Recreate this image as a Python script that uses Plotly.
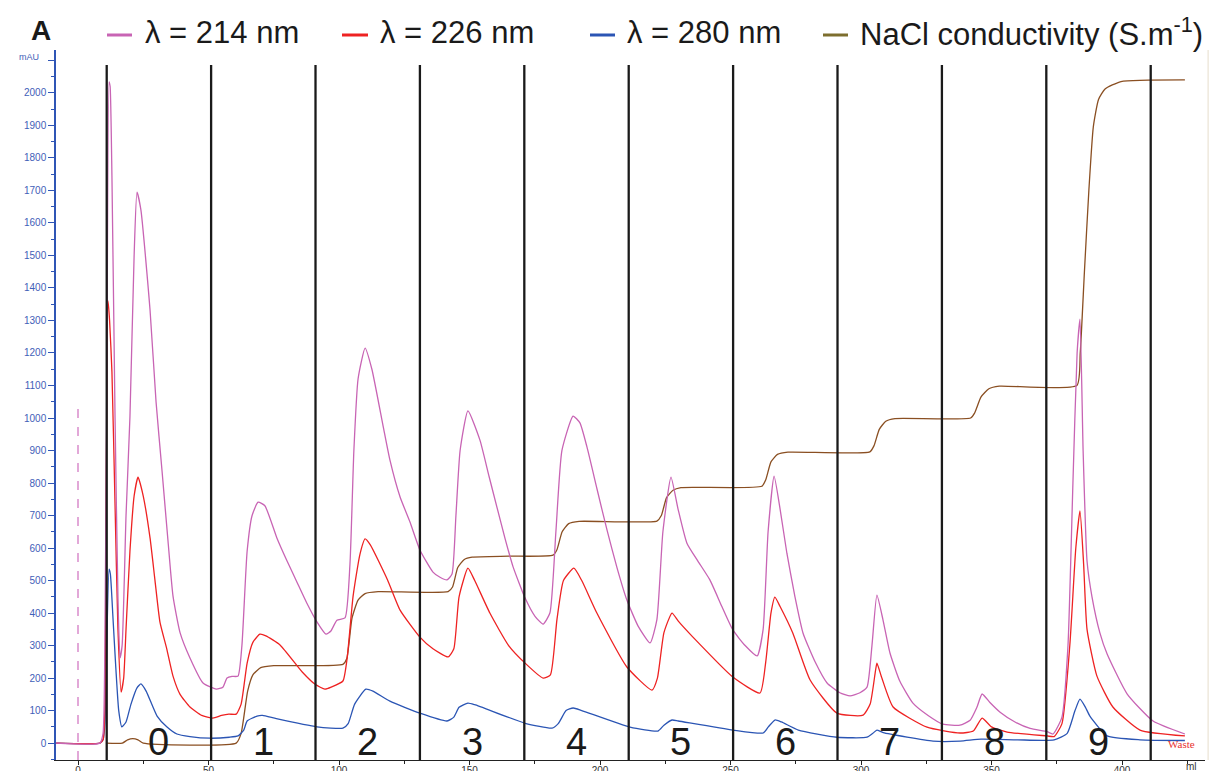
import plotly.graph_objects as go

# ---------------- data (ml, mAU) ----------------
x214 = [-8.4, 8.4, 9.6, 10.3, 11.1, 11.9, 12.3, 13.0, 14.2, 15.3, 16.1, 16.9, 18.4, 19.9, 21.5, 22.6, 24.1,
        27.6, 29.9, 32.2, 34.5, 36.4, 39.1, 42.9, 47.9, 53.0, 55.5, 57.1, 59.0, 61.3, 62.8, 64.8, 66.7, 69.0,
        71.6, 76.2, 80.1, 83.9, 87.7, 91.6, 95.0, 96.9, 99.2, 102.3, 104.2, 105.7, 107.3, 110.0, 112.6, 116.9,
        119.5, 123.4, 127.2, 131.0, 136.0, 138.7, 141.4, 143.3, 144.8, 146.4, 149.4, 154.0, 157.5, 160.5,
        163.6, 166.7, 171.3, 175.1, 178.2, 180.8, 183.1, 185.4, 189.7, 192.3, 195.0, 198.9, 202.7, 206.5,
        210.3, 214.6, 219.2, 221.8, 224.1, 227.2, 229.9, 233.3, 237.5, 242.1, 246.7, 250.9, 255.6, 260.2,
        262.5, 264.4, 266.7, 269.0, 271.6, 274.7, 277.8, 282.4, 287.0, 291.9, 295.8, 299.6, 302.3, 304.2,
        306.1, 308.4, 311.1, 314.9, 319.9, 325.7, 331.4, 337.9, 341.8, 344.4, 346.4, 349.4, 353.3, 359.0,
        364.8, 371.3, 373.6, 377.0, 379.3, 381.2, 382.8, 383.9, 385.1, 386.6, 388.5, 391.5, 394.3, 402.0,
        411.9, 424.1]
y214 = [0, 0, 30, 300, 1200, 2034, 2020, 1745, 1000, 450, 262, 300, 700, 1003, 1500, 1695, 1640,
        1332, 1050, 837, 620, 452, 340, 262, 185, 166, 172, 200, 205, 206, 300, 590, 700, 741,
        730, 631, 560, 495, 430, 372, 335, 345, 378, 385, 550, 900, 1120, 1215, 1150, 975,
        871, 757, 680, 594, 526, 510, 502, 520, 700, 900, 1022, 932, 820, 726,
        630, 542, 446, 390, 366, 400, 650, 900, 1006, 985, 911, 780, 655, 540,
        440, 360, 308, 380, 650, 818, 720, 615, 560, 502, 420, 348, 300, 268,
        350, 650, 821, 720, 584, 450, 338, 250, 185, 155, 145, 155, 172, 300,
        455, 380, 277, 190, 123, 85, 58, 55, 70, 110, 151, 125, 95, 65,
        45, 35, 28, 80, 300, 800, 1200, 1304, 900, 560, 450, 340, 274, 151,
        68, 28]

x226 = [-8.4, 8.4, 9.6, 10.3, 10.7, 11.5, 12.1, 13.0, 14.2, 15.3, 16.5, 17.5, 18.4, 19.9, 21.5, 23.0, 25.0,
        27.6, 29.5, 31.4, 34.0, 36.4, 39.1, 42.9, 47.4, 51.7, 55.0, 57.8, 60.6, 62.5, 64.8, 67.0, 69.7,
        72.0, 77.4, 86.0, 91.0, 94.6, 97.0, 101.5, 103.1, 105.4, 108.0, 110.0, 112.0, 118.6, 123.4, 131.0,
        136.0, 141.8, 144.0, 146.0, 149.4, 152.0, 157.8, 165.0, 171.3, 178.2, 181.0, 183.5, 186.0, 190.0,
        193.0, 198.8, 210.3, 219.9, 222.0, 224.5, 227.6, 230.0, 235.6, 250.9, 261.3, 263.5, 265.5, 267.0,
        269.0, 273.9, 280.5, 290.8, 300.8, 303.5, 305.5, 306.1, 308.0, 312.3, 325.3, 337.9, 343.0, 346.4,
        350.0, 356.0, 371.3, 374.0, 377.0, 380.0, 382.3, 383.9, 385.3, 386.6, 390.4, 396.5, 406.9, 424.1]
y226 = [0, 0, 10, 100, 600, 1360, 1300, 1142, 730, 350, 157, 200, 350, 590, 760, 818, 760,
        631, 500, 372, 290, 206, 150, 111, 85, 77, 85, 89, 89, 120, 246, 310, 335,
        330, 302, 218, 180, 166, 172, 191, 260, 452, 580, 628, 610, 502, 409, 326,
        290, 265, 290, 450, 538, 500, 400, 300, 246, 200, 210, 380, 500, 538,
        500, 400, 234, 163, 200, 340, 400, 375, 326, 203, 154, 250, 400, 449,
        420, 338, 194, 92, 86, 120, 220, 246, 200, 111, 49, 31, 37, 77,
        50, 34, 22, 20, 60, 300, 600, 714, 550, 350, 206, 111, 40, 22]

x280 = [-8.4, 8.4, 9.6, 10.3, 11.0, 11.9, 12.4, 13.4, 14.5, 15.6, 16.8, 18.4, 20.3, 22.6, 24.1, 26.1, 30.3,
        34.0, 37.9, 42.9, 50.6, 58.0, 61.3, 63.5, 64.8, 68.6, 70.7, 76.0, 91.6, 101.5, 103.5, 106.0, 110.3,
        113.0, 119.5, 131.0, 141.4, 144.0, 146.0, 149.4, 152.0, 171.3, 181.6, 184.0, 187.0, 189.7, 193.0,
        211.5, 222.2, 224.5, 227.6, 230.0, 251.0, 262.5, 264.5, 267.0, 269.5, 276.0, 290.8, 302.3, 304.5,
        306.1, 308.5, 327.6, 338.0, 346.0, 360.0, 374.0, 379.0, 382.0, 383.9, 386.0, 387.7, 394.3, 406.9, 424.1]
y280 = [0, 0, 10, 60, 300, 535, 520, 385, 230, 100, 50, 65, 120, 170, 182, 160, 83,
        50, 28, 20, 15, 18, 22, 40, 68, 83, 85, 75, 50, 46, 60, 120, 166,
        160, 129, 92, 68, 80, 110, 123, 118, 61, 46, 60, 100, 108, 100,
        49, 37, 55, 71, 68, 40, 31, 50, 71, 65, 40, 18, 18, 30,
        40, 32, 6, 6, 12, 10, 10, 30, 100, 135, 110, 83, 22, 10, 8]

x_nacl = [10.7, 17.0, 19.0, 21.0, 23.0, 25.0, 60.6, 62.5, 65.0, 67.0, 70.0, 75.0, 101.5, 103.0, 105.0, 107.3,
          110.0, 115.0, 141.8, 143.5, 145.5, 148.0, 151.0, 165.0, 182.0, 183.5, 185.5, 188.0, 192.0, 221.8,
          223.5, 225.5, 228.0, 231.0, 262.0, 263.5, 265.5, 268.0, 272.0, 303.4, 305.0, 307.0, 309.5, 313.0,
          342.0, 343.5, 346.0, 349.0, 353.0, 382.7, 384.0, 385.6, 387.3, 389.0, 391.0, 393.5, 399.6, 424.1]
y_nacl = [0, 0, 10, 14, 10, 0, 0, 30, 160, 210, 232, 238, 242, 260, 385, 440,
          460, 466, 466, 480, 540, 565, 572, 575, 578, 595, 650, 675, 682, 683,
          700, 755, 778, 786, 790, 810, 865, 888, 895, 896, 915, 965, 990, 998,
          1000, 1015, 1065, 1090, 1098, 1100, 1200, 1450, 1700, 1895, 1980, 2012, 2035, 2040]

fraction_bounds = [11, 51, 91, 131, 171, 211, 251, 291, 331, 371, 411]
fraction_labels = ["0", "1", "2", "3", "4", "5", "6", "7", "8", "9"]
legend_names = ["λ = 214 nm", "λ = 226 nm", "λ = 280 nm", "NaCl conductivity (S.m<sup>-1</sup>)"]
y_tick_values = list(range(0, 2101, 100))
x_tick_values = list(range(0, 401, 50))

C214, C226, C280, CNACL = "#C864B4", "#EE2222", "#2B55B4", "#8A4F22"
LEG_COLORS = [C214, C226, C280, "#7D6E2E"]

XR = [-8.43, 431.8]
YR = [-52, 2132]

fig = go.Figure()
for xs, ys, c in [(x_nacl, y_nacl, CNACL), (x280, y280, C280), (x226, y226, C226), (x214, y214, C214)]:
    fig.add_trace(go.Scatter(x=xs, y=ys, mode="lines", showlegend=False,
                             line=dict(color=c, width=1.3, shape="spline", smoothing=0.5)))

shapes = []
shapes.append(dict(type="line", xref="x", yref="y", x0=0, x1=0, y0=YR[0], y1=1030,
                   line=dict(color="#D98CCB", width=1.5, dash="dash")))
for b in fraction_bounds:
    shapes.append(dict(type="line", xref="x", yref="y", x0=b, x1=b, y0=YR[0], y1=2086,
                       line=dict(color="#1A1A1A", width=2.3)))
shapes.append(dict(type="line", xref="paper", yref="paper", x0=1.0027, x1=1.0027, y0=0, y1=1,
                   line=dict(color="#E6DDCB", width=1)))

annotations = []
for i, lab in enumerate(fraction_labels):
    xc = (fraction_bounds[i] + fraction_bounds[i + 1]) / 2
    annotations.append(dict(x=xc, y=3, xref="x", yref="y", text=lab, showarrow=False,
                            font=dict(family="Liberation Sans, Arial", size=38, color="#1A1A1A"),
                            xanchor="center", yanchor="middle"))

W, H, L, T = 1149.0, 710.0, 56.0, 50.0
def px2paper(px, py):
    return (px - L) / W, (T + H - py) / H

leg_line_px = [(107, 132), (342, 368), (590, 615), (823, 848)]
leg_text_px = [143, 378, 625, 858]
for (a, b), tx, name, col in zip(leg_line_px, leg_text_px, legend_names, LEG_COLORS):
    xa, yy = px2paper(a, 35)
    xb, _ = px2paper(b, 35)
    shapes.append(dict(type="line", xref="paper", yref="paper", x0=xa, x1=xb, y0=yy, y1=yy,
                       line=dict(color=col, width=3)))
    xt, yt = px2paper(tx, 32)
    annotations.append(dict(x=xt, y=yt, xref="paper", yref="paper", text=name, showarrow=False,
                            xanchor="left", yanchor="middle",
                            font=dict(family="Liberation Sans, Arial", size=31, color="#1A1A1A")))

xa, ya = px2paper(41, 30)
annotations.append(dict(x=xa, y=ya, xref="paper", yref="paper", text="<b>A</b>", showarrow=False,
                        xanchor="center", yanchor="middle",
                        font=dict(family="Liberation Sans, Arial", size=28, color="#1A1A1A")))
xa, ya = px2paper(29, 57)
annotations.append(dict(x=xa, y=ya, xref="paper", yref="paper", text="mAU", showarrow=False,
                        xanchor="center", yanchor="middle",
                        font=dict(family="Liberation Sans, Arial", size=9, color="#3F60B8")))
xa, ya = px2paper(1191, 766)
annotations.append(dict(x=xa, y=ya, xref="paper", yref="paper", text="ml", showarrow=False,
                        xanchor="center", yanchor="middle",
                        font=dict(family="Liberation Sans, Arial", size=10, color="#333333")))
annotations.append(dict(x=422.8, y=-4, xref="x", yref="y", text="Waste", showarrow=False,
                        xanchor="center", yanchor="middle",
                        font=dict(family="Liberation Serif, Times New Roman", size=11, color="#E83030")))

fig.update_layout(
    width=1224, height=771, autosize=False,
    margin=dict(l=56, r=19, t=50, b=11, pad=0),
    paper_bgcolor="white", plot_bgcolor="white",
    shapes=shapes, annotations=annotations, showlegend=False,
    xaxis=dict(range=XR, showgrid=False, zeroline=False, showline=True, linecolor="#222222", linewidth=1.2,
               automargin=False,
               tickmode="array", tickvals=x_tick_values, ticks="outside", ticklen=4, tickcolor="#222222",
               ticklabelstandoff=-3,
               tickfont=dict(family="Liberation Sans, Arial", size=10, color="#333333"),
               minor=dict(dtick=25, tick0=0, ticks="outside", ticklen=3, tickcolor="#222222")),
    yaxis=dict(range=YR, showgrid=False, zeroline=False, showline=True, linecolor="#2F55B5", linewidth=1.5,
               automargin=False,
               tickmode="array", tickvals=y_tick_values,
               ticktext=[str(v) if v <= 2000 else " " for v in y_tick_values],
               ticks="outside", ticklen=6, tickcolor="#2F55B5",
               tickfont=dict(family="Liberation Sans, Arial", size=10, color="#3F60B8"),
               minor=dict(dtick=50, tick0=0, ticks="outside", ticklen=3, tickcolor="#2F55B5")),
)

fig.write_html("out.html", config={"displayModeBar": False},
               post_script="document.body.style.margin='0';document.body.style.overflow='hidden';")
